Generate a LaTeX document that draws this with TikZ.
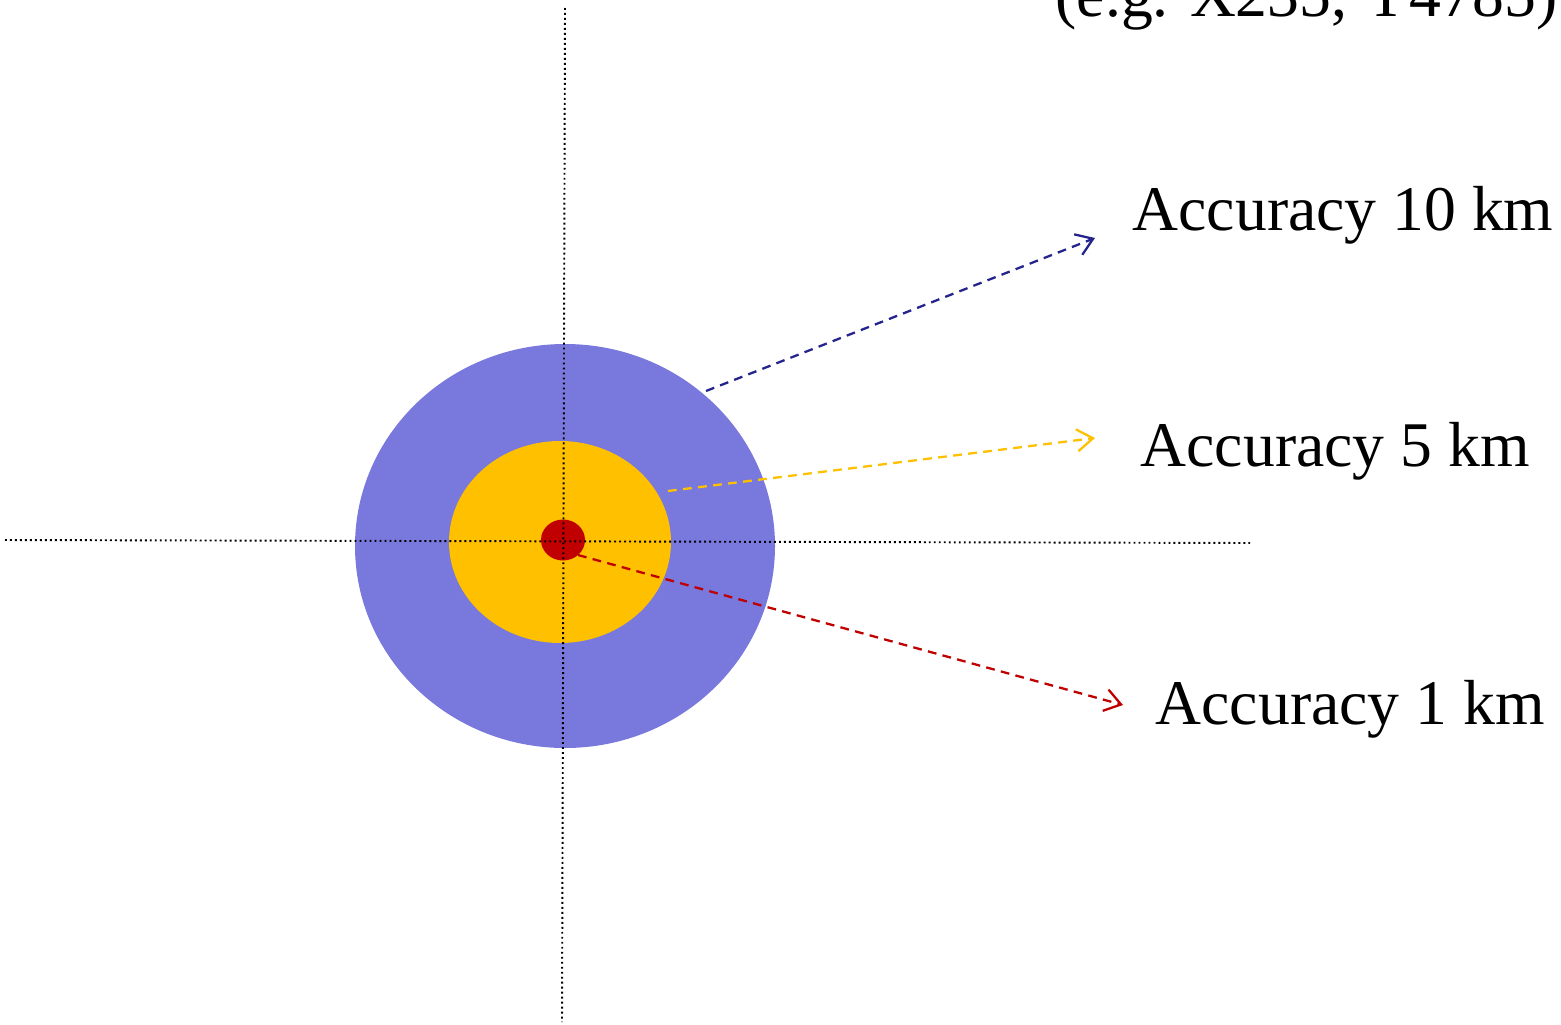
\documentclass[tikz,border=0pt]{standalone}
\usepackage{fontspec}
\setmainfont{Liberation Serif}
\usetikzlibrary{arrows.meta}
\definecolor{ringblue}{HTML}{7878DD}
\definecolor{ringyellow}{HTML}{FFC000}
\definecolor{ringred}{HTML}{C00000}
\definecolor{arrowblue}{HTML}{24248C}
\tikzset{
  axisline/.style={black,line width=0.55pt,dash pattern=on 0.55pt off 0.87pt},
  pointer/.style={dash pattern=on 2.5pt off 1.8pt,line width=0.65pt,-{Straight Barb[length=1.6mm,width=2.2mm]}},
  lbl/.style={anchor=base west,inner sep=0pt,font=\fontsize{18.1}{20}\selectfont}
}
\begin{document}
\begin{tikzpicture}[x=0.01cm,y=-0.01cm]
\useasboundingbox (0,0) rectangle (1561,1024);
\clip (0,0) rectangle (1561,1024);
% target rings
\fill[ringblue] (565,546) ellipse (210 and 202);
\fill[ringyellow] (560,542) ellipse (111 and 101);
\fill[ringred] (563,540) ellipse (22 and 20.5);
% axes
\coordinate (xl) at (5,540);
\coordinate (xr) at (1250,543);
\coordinate (yt) at (565,8);
\coordinate (yb) at (562,1022);
\draw[axisline] (xl) -- (xr);
\draw[axisline] (yt) -- (yb);
% labels
\node[lbl] (coord) at (1055,17) {(e.g. X235, Y4785)};
\node[lbl] (acc10) at (1132,230) {Accuracy 10 km};
\node[lbl] (acc5) at (1140,466) {Accuracy 5 km};
\node[lbl] (acc1) at (1155,724) {Accuracy 1 km};
% pointers
\coordinate (s10) at (706,391);
\coordinate (e10) at (1095,238);
\coordinate (s5) at (668,491);
\coordinate (e5) at (1095,438);
\coordinate (s1) at (578,555);
\coordinate (e1) at (1123,705);
\draw[pointer,arrowblue] (s10) -- (e10);
\draw[pointer,ringyellow] (s5) -- (e5);
\draw[pointer,ringred] (s1) -- (e1);
\end{tikzpicture}
\end{document}
